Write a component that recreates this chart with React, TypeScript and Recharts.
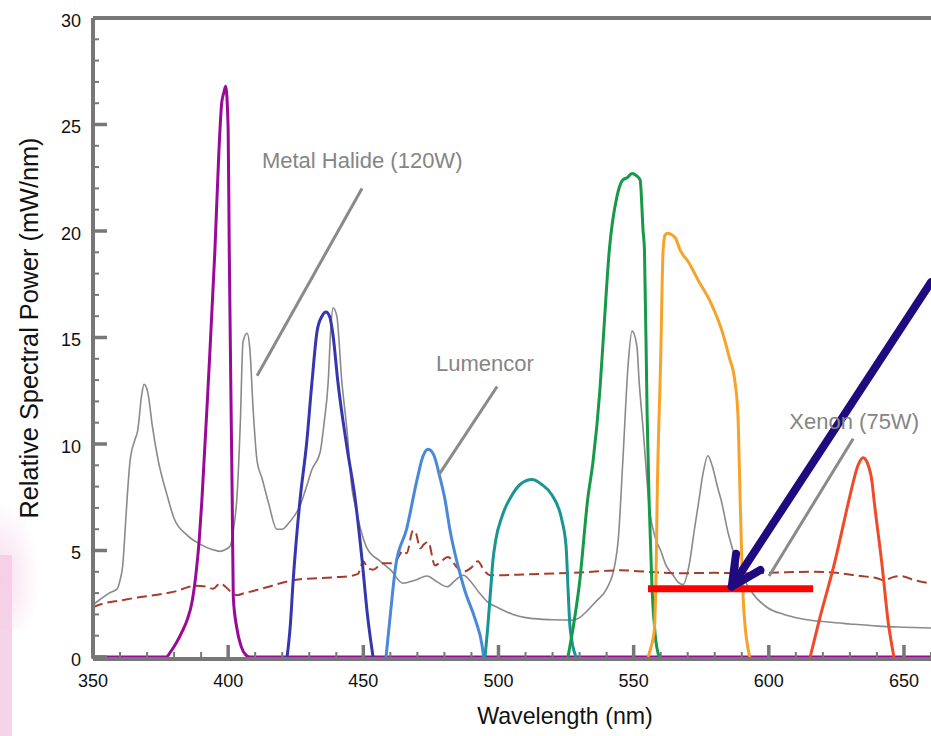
import React from 'react';
import { LineChart, Line, XAxis, YAxis, ReferenceLine, ReferenceDot, Label } from 'recharts';

type P = [number, number];

const violet: P[] = [[350,0],[370,0],[377,0],[379,0.3],[381,0.7],[383,1.2],[385,1.8],[386.5,2.5],[388,3.8],[389.3,5.5],[390.3,7.4],[392.7,13],[395.1,19.1],[396.6,23.8],[397.6,26.0],[398.4,26.5],[399.1,26.8],[400,24.75],[400.4,19.1],[401.5,7.4],[401.9,2.8],[403.2,1.36],[404.8,0.5],[406.5,0.1],[408,0],[660,0]];
const royal: P[] = [[421.8,0],[423,1.5],[424,3.5],[426.6,7.4],[429,10],[431,12.9],[432.9,15.3],[434.7,16.0],[436.2,16.2],[437.5,16.0],[438.7,15.2],[440.6,12.9],[444,9.8],[447,7.4],[449.5,4.6],[451.5,2],[453.6,0]];
const cyan: P[] = [[458.4,0],[460,2],[462,4.3],[466,6.0],[470,8.4],[472,9.4],[474,9.75],[476,9.5],[478.4,8.4],[480.2,7.4],[482,6.0],[484,4.8],[485.8,3.9],[487.6,3.1],[491.3,1.8],[493.9,0.56],[494.5,0]];
const teal: P[] = [[495,0],[496,1.36],[497,3],[498,4.6],[499,5.5],[501.3,6.6],[505,7.6],[508,8.1],[512.4,8.33],[516,8.1],[519.8,7.6],[523.5,6.4],[525,5.2],[525.8,3],[526.5,1.36],[528.7,0]];
const green: P[] = [[525.7,0],[527.6,1.36],[530,3.5],[533,7.4],[535,9.2],[537.5,12.5],[539,15.4],[541,19.1],[543.8,21.6],[546,22.4],[547.6,22.5],[549.4,22.7],[551,22.6],[552.4,22.4],[553.5,20],[554,19.1],[555,11.3],[555.7,7.4],[556.8,3.2],[558,1],[559.4,0]];
const amber: P[] = [[555.3,0],[556.5,0.5],[557.6,1.2],[558.3,4],[558.7,7.4],[560,14],[560.9,19.1],[561.6,19.8],[562.4,19.9],[565.3,19.7],[567.2,19.1],[570.5,18.5],[573.8,17.7],[578.3,16.7],[582.7,15.3],[585.3,14.1],[587.5,12.9],[588.6,11.3],[589.4,7.4],[590.5,2.8],[592.3,0.4],[593,0]];
const red: P[] = [[615.3,0],[618.6,1.7],[624.1,4.3],[629.7,7.4],[631.2,8.2],[633,9.0],[634.9,9.36],[636.5,9.1],[638.2,8.2],[638.9,7.4],[641.9,4.3],[644.1,1.7],[646.3,0]];
const metalHalide: P[] = [[350,2.45],[352.6,2.7],[356,3.0],[358.9,3.2],[360,3.6],[361,4.3],[362,6.2],[362.6,7.4],[363.7,9.2],[365.5,10.2],[366.5,10.6],[368,12.3],[368.9,12.8],[370.3,12.4],[372,10.8],[374,9.3],[377.4,7.6],[380,6.5],[385,5.7],[389.6,5.3],[394,5.05],[397,4.96],[399,5.05],[400.7,5.2],[402,6.0],[403.3,7.6],[404.5,11],[405.5,14.8],[407,15.2],[408,14.5],[409.3,11.5],[410.7,9.2],[412.5,8.4],[415,7.2],[418,6.0],[420,6.0],[422.5,6.3],[426.6,7.1],[429,8.0],[431,8.8],[434,9.6],[435.5,11],[437,12.9],[438,15.5],[438.8,16.4],[440.2,16.0],[442,13],[444,10.6],[445.8,7.9],[447,7.1],[449,6.0],[451.4,5.1],[456.2,4.5],[460,4.1],[464.7,3.46],[469,3.6],[473.6,3.8],[477,3.55],[481,3.3],[484,3.6],[487,3.84],[490,3.5],[493,3.0],[495.8,2.6],[500,2.3],[505.4,2.0],[510,1.85],[515.4,1.78],[520,1.75],[527.6,1.73],[530,1.85],[532.7,2.15],[536,2.6],[540,3.2],[543,4.3],[544.3,5.5],[546,9.2],[548,13.8],[549.4,15.3],[551.2,14.6],[552,13],[553.5,10.7],[556,6.8],[558,5.6],[560,5.0],[562,4.3],[564.6,3.84],[566.5,3.5],[568.3,3.4],[570.5,4.3],[572.5,6.0],[574.2,7.4],[575.5,8.5],[577.5,9.45],[579,9.0],[581.2,7.9],[582.3,7.4],[585,5.8],[588.6,4.3],[593.4,3.1],[599.7,2.3],[605.6,2.0],[612,1.8],[621.9,1.64],[630,1.55],[640.4,1.45],[650,1.4],[660,1.36]];
const xenon: P[] = [[350,2.35],[355,2.55],[360,2.65],[364.8,2.76],[370,2.85],[377.4,3.0],[381,3.1],[384.8,3.27],[388,3.35],[392,3.3],[394.4,3.2],[397,3.46],[399,3.3],[400.7,3.1],[403.3,2.9],[406,3.0],[409.2,3.1],[415,3.3],[420.3,3.5],[426.6,3.65],[434,3.7],[440,3.75],[445,3.8],[448,3.9],[450,4.5],[451.5,4.2],[453.6,4.1],[457.3,4.4],[460,4.4],[462.5,4.6],[464.7,5.0],[466,4.87],[468.4,5.94],[469.5,5.8],[471,5.1],[472.5,5.3],[474,5.4],[476.5,4.3],[478,4.4],[481.3,4.7],[484.7,4.2],[487,4.0],[490,4.2],[492.4,4.5],[494.5,4.1],[497,3.84],[500.6,3.84],[510,3.88],[520,3.92],[530,3.97],[545,4.07],[555,4.0],[566.5,3.93],[580,3.95],[589,3.93],[600,3.95],[615.6,4.0],[625,3.95],[634,3.8],[640,3.7],[642.6,3.6],[646,3.75],[649,3.8],[654,3.6],[660,3.46]];

const xTicks: number[] = [350,360,370,380,390,400,410,420,430,440,450,460,470,480,490,500,510,520,530,540,550,560,570,580,590,600,610,620,630,640,650,660];
const yTicks: number[] = Array.from({ length: 31 }, (_, i) => i);

const annotations = [
  { text: 'Metal Halide (120W)', at: [412.5, 22.98] as P, from: [449.5, 22.0] as P, to: [410.7, 13.2] as P },
  { text: 'Lumencor', at: [476.9, 13.43] as P, from: [499.5, 12.7] as P, to: [478, 8.56] as P },
  { text: 'Xenon (75W)', at: [607.6, 10.72] as P, from: [631.2, 10.25] as P, to: [600.1, 3.8] as P },
];
const arrowTail: P = [660, 17.6];
const arrowTip: P = [586.3, 3.31];
const redBar: P[] = [[555.3, 3.2], [616.4, 3.2]];
const baselineY = -0.094;

const toRows = (a: P[]) => a.map(([x, v]) => ({ x, v }));

const FONT = '"Liberation Sans", Arial, Helvetica, sans-serif';
const AXIS = '#777777';

const XTick = (props: any) => {
  const { x, y, payload } = props;
  const major = payload.value % 50 === 0;
  return (
    <g>
      <line x1={x} y1={y + 2} x2={x} y2={y - (major ? 12 : 5)} stroke={AXIS} strokeWidth={major ? 3.5 : 2} />
      {major && (
        <text x={x} y={y + 30} textAnchor="middle" fontSize={18} fontFamily={FONT} fill="#111">{payload.value}</text>
      )}
    </g>
  );
};

const YTick = (props: any) => {
  const { x, y, payload } = props;
  const major = payload.value % 5 === 0;
  return (
    <g>
      <line x1={x} y1={y} x2={x + (major ? 14 : 6)} y2={y} stroke={AXIS} strokeWidth={major ? 3.5 : 2} />
      {major && (
        <text x={x - 12} y={y + 8.5} textAnchor="end" fontSize={18} fontFamily={FONT} fill="#111">{payload.value}</text>
      )}
    </g>
  );
};

const Arrow = (props: any) => {
  const { x1, y1, x2, y2 } = props;
  const ang = Math.atan2(y1 - y2, x1 - x2);
  const L = 33;
  const a1 = ang - 0.45;
  const a2 = ang + 0.47;
  const b1x = x2 + L * Math.cos(a1), b1y = y2 + L * Math.sin(a1);
  const b2x = x2 + L * Math.cos(a2), b2y = y2 + L * Math.sin(a2);
  return (
    <g>
      <line x1={x1} y1={y1} x2={x2} y2={y2} stroke="#1f0a80" strokeWidth={8} strokeLinecap="round" />
      <polyline points={`${b1x},${b1y} ${x2},${y2} ${b2x},${b2y}`} fill="none" stroke="#1f0a80" strokeWidth={8} strokeLinecap="round" strokeLinejoin="round" />
    </g>
  );
};

const series = [
  { key: 'metal', data: metalHalide, color: '#8a8a8a', w: 1.6, dash: undefined },
  { key: 'xenon', data: xenon, color: '#a83c2c', w: 2, dash: '10 5' },
  { key: 'violet', data: violet, color: '#990a99', w: 3, dash: undefined },
  { key: 'royal', data: royal, color: '#3636b0', w: 3, dash: undefined },
  { key: 'cyan', data: cyan, color: '#4a88d8', w: 3, dash: undefined },
  { key: 'teal', data: teal, color: '#1a9494', w: 3, dash: undefined },
  { key: 'green', data: green, color: '#17994a', w: 3, dash: undefined },
  { key: 'amber', data: amber, color: '#f7a329', w: 3, dash: undefined },
  { key: 'red', data: red, color: '#f04a28', w: 3, dash: undefined },
];

export default function App() {
  return (
    <div style={{ position: 'absolute', left: 0, top: 0, width: 931, height: 736, background: '#fff', overflow: 'hidden' }}>
      <div style={{ position: 'absolute', left: 0, top: 555, width: 12, height: 181, background: '#f5d3e8' }} />
      <div style={{ position: 'absolute', left: 0, top: 500, width: 40, height: 130, background: 'radial-gradient(ellipse at 0% 60%, rgba(245,205,228,0.7), rgba(255,255,255,0) 70%)' }} />
      <div style={{ position: 'absolute', left: 0, top: 0 }}>
        <LineChart width={931} height={736} margin={{ top: 18, right: 0, bottom: 0, left: 0 }}>
          <XAxis
            dataKey="x"
            type="number"
            domain={[350, 660]}
            ticks={xTicks}
            interval={0}
            allowDataOverflow
            height={79}
            tickSize={0}
            tickMargin={0}
            tickLine={false}
            axisLine={false}
            tick={<XTick />}
          >
            <Label
              content={() => (
                <text x={565} y={724} textAnchor="middle" fontSize={23.2} fontFamily={FONT} fill="#111">Wavelength (nm)</text>
              )}
            />
          </XAxis>
          <YAxis
            type="number"
            domain={[0, 30]}
            ticks={yTicks}
            interval={0}
            allowDataOverflow
            width={93}
            tickSize={0}
            tickMargin={0}
            tickLine={false}
            axisLine={{ stroke: AXIS, strokeWidth: 4 }}
            tick={<YTick />}
          >
            <Label
              content={() => (
                <text x={38} y={328} transform="rotate(-90 38 328)" textAnchor="middle" fontSize={25.3} fontFamily={FONT} fill="#111">Relative Spectral Power (mW/nm)</text>
              )}
            />
          </YAxis>
          <ReferenceLine y={30} stroke={AXIS} strokeWidth={4} />
          <ReferenceLine y={baselineY} stroke={AXIS} strokeWidth={4} ifOverflow="visible" />
          {series.map((s) => (
            <Line
              key={s.key}
              data={toRows(s.data)}
              dataKey="v"
              type="monotone"
              stroke={s.color}
              strokeWidth={s.w}
              strokeDasharray={s.dash}
              dot={false}
              activeDot={false}
              isAnimationActive={false}
            />
          ))}
          {annotations.map((a) => (
            <ReferenceLine
              key={'l' + a.text}
              segment={[{ x: a.from[0], y: a.from[1] }, { x: a.to[0], y: a.to[1] }]}
              stroke="#8a8a8a"
              strokeWidth={3}
              ifOverflow="visible"
            />
          ))}
          {annotations.map((a) => (
            <ReferenceDot
              key={'t' + a.text}
              x={a.at[0]}
              y={a.at[1]}
              r={0}
              ifOverflow="visible"
              shape={(p: any) => (
                <text x={p.cx} y={p.cy} fontSize={22} fontFamily={FONT} fill="#858585">{a.text}</text>
              )}
            />
          ))}
          <ReferenceLine
            segment={[{ x: redBar[0][0], y: redBar[0][1] }, { x: redBar[1][0], y: redBar[1][1] }]}
            stroke="#ff0000"
            strokeWidth={7}
            ifOverflow="visible"
          />
          <ReferenceLine
            segment={[{ x: arrowTail[0], y: arrowTail[1] }, { x: arrowTip[0], y: arrowTip[1] }]}
            ifOverflow="visible"
            shape={(p: any) => <Arrow {...p} />}
          />
        </LineChart>
      </div>
    </div>
  );
}
